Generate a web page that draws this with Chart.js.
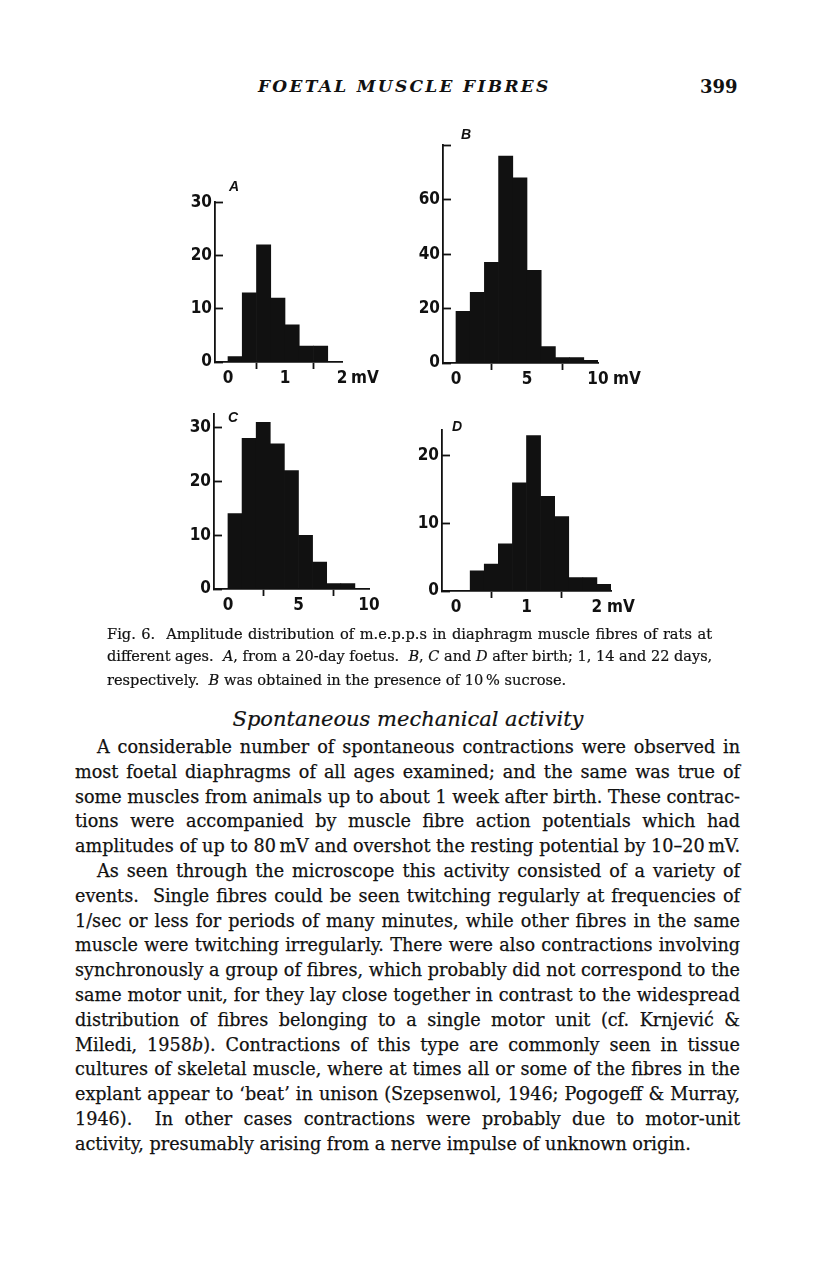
<!DOCTYPE html>
<html>
<head>
<meta charset="utf-8">
<script src="https://cdn.jsdelivr.net/npm/chart.js@4.4.0/dist/chart.umd.min.js"></script>
<style>
  body { margin: 0; background: #fff; }
  #page { position: relative; width: 816px; height: 1272px; overflow: hidden; background: #fff; color: #111; font-family: 'DejaVu Serif', serif; }
  canvas { position: absolute; }
  .t { position: absolute; white-space: nowrap; }
  .lab { position: absolute; font-family: 'Liberation Sans Narrow', 'DejaVu Sans Condensed', 'Liberation Sans', sans-serif; font-weight: bold; font-size: 17px; line-height: 1; color: #111; }
  .let { position: absolute; font-family: 'Liberation Sans', sans-serif; font-style: italic; font-weight: bold; font-size: 14px; line-height: 1; color: #111; }
  .j { white-space: nowrap; text-align: justify; text-align-last: justify; }
  .l { white-space: nowrap; text-align: left; }
  #caption { position: absolute; left: 107px; top: 622px; width: 605px; font-size: 14.6px; line-height: 23px; -webkit-text-stroke: 0.2px #111; }
  #body { position: absolute; left: 75px; top: 735px; width: 665px; font-size: 17.6px; line-height: 24.8px; -webkit-text-stroke: 0.25px #111; }
  .ind { padding-left: 22px; }
</style>
</head>
<body>
<div id="page">
  <div class="t" style="left:258px; top:76px; font-style:italic; font-weight:bold; font-size:17px; letter-spacing:2.3px;">FOETAL MUSCLE FIBRES</div>
  <div class="t" style="left:700px; top:76px; font-weight:bold; font-size:18px;">399</div>

  <canvas id="chartA" width="197" height="213" style="left:175px; top:181px;"></canvas>
  <canvas id="chartB" width="225" height="271" style="left:403px; top:124px;"></canvas>
  <canvas id="chartC" width="225" height="228" style="left:174px; top:393px;"></canvas>
  <canvas id="chartD" width="239" height="214" style="left:402px; top:409px;"></canvas>

  <div class="let" style="left:229px; top:179px;">A</div>
  <div class="let" style="left:461px; top:127px;">B</div>
  <div class="let" style="left:228px; top:410px;">C</div>
  <div class="let" style="left:452px; top:419px;">D</div>

  <div class="lab" style="left:351px; top:369px;">mV</div>
  <div class="lab" style="left:613px; top:370px;">mV</div>
  <div class="lab" style="left:607px; top:598px;">mV</div>

  <div id="caption">
    <div class="j">Fig. 6.&nbsp; Amplitude distribution of m.e.p.p.s in diaphragm muscle fibres of rats at</div>
    <div class="j">different ages.&nbsp; <i>A</i>, from a 20-day foetus.&nbsp; <i>B</i>, <i>C</i> and <i>D</i> after birth; 1, 14 and 22 days,</div>
    <div class="l">respectively.&nbsp; <i>B</i> was obtained in the presence of 10&#8201;% sucrose.</div>
  </div>

  <div class="t" style="left:0; width:816px; top:707px; text-align:center; font-style:italic; font-size:21px; -webkit-text-stroke:0.2px #111;">Spontaneous mechanical activity</div>

  <div id="body">
    <div class="j ind">A considerable number of spontaneous contractions were observed in</div>
    <div class="j">most foetal diaphragms of all ages examined; and the same was true of</div>
    <div class="j">some muscles from animals up to about 1 week after birth. These contrac-</div>
    <div class="j">tions were accompanied by muscle fibre action potentials which had</div>
    <div class="j">amplitudes of up to 80&#8201;mV and overshot the resting potential by 10&ndash;20&#8201;mV.</div>
    <div class="j ind">As seen through the microscope this activity consisted of a variety of</div>
    <div class="j">events.&nbsp; Single fibres could be seen twitching regularly at frequencies of</div>
    <div class="j">1/sec or less for periods of many minutes, while other fibres in the same</div>
    <div class="j">muscle were twitching irregularly. There were also contractions involving</div>
    <div class="j">synchronously a group of fibres, which probably did not correspond to the</div>
    <div class="j">same motor unit, for they lay close together in contrast to the widespread</div>
    <div class="j">distribution of fibres belonging to a single motor unit (cf. Krnjević &amp;</div>
    <div class="j">Miledi, 1958<i>b</i>). Contractions of this type are commonly seen in tissue</div>
    <div class="j">cultures of skeletal muscle, where at times all or some of the fibres in the</div>
    <div class="j">explant appear to &lsquo;beat&rsquo; in unison (Szepsenwol, 1946; Pogogeff &amp; Murray,</div>
    <div class="j">1946).&nbsp; In other cases contractions were probably due to motor-unit</div>
    <div class="l">activity, presumably arising from a nerve impulse of unknown origin.</div>
  </div>
</div>

<script>
// A: 20-day foetus, bins of 0.25 mV
const startsA = [0, 0.25, 0.5, 0.75, 1.0, 1.25, 1.5];
const countsA = [1, 13, 22, 12, 7, 3, 3];
const binA = 0.25;
const xTicksA = [0, 1, 2];
const yTicksA = [0, 10, 20, 30];

// B: 1 day after birth, bins of 1 mV
const startsB = [0, 1, 2, 3, 4, 5, 6, 7, 8, 9];
const countsB = [19, 26, 37, 76, 68, 34, 6, 2, 2, 1];
const binB = 1;
const xTicksB = [0, 5, 10];
const yTicksB = [0, 20, 40, 60, 80];

// C: 14 days, bins of 1 mV
const startsC = [0, 1, 2, 3, 4, 5, 6, 7, 8];
const countsC = [14, 28, 31, 27, 22, 10, 5, 1, 1];
const binC = 1;
const xTicksC = [0, 5, 10];
const yTicksC = [0, 10, 20, 30];

// D: 22 days, bins of 0.2 mV
const startsD = [0, 0.2, 0.4, 0.6, 0.8, 1.0, 1.2, 1.4, 1.6, 1.8, 2.0];
const countsD = [0, 3, 4, 7, 16, 23, 14, 11, 2, 2, 1];
const binD = 0.2;
const xTicksD = [0, 1, 2];
const yTicksD = [0, 10, 20];

const ink = '#111';
const axisFont = { family: "'Liberation Sans Narrow', 'DejaVu Sans Condensed', 'Liberation Sans', sans-serif", size: 17, weight: 'bold' };

function histogram(id, starts, bin, counts, xTicks, yTicks, range) {
  const points = starts.map((s, i) => ({ x: s + bin / 2, y: counts[i] }));
  return new Chart(document.getElementById(id), {
    type: 'bar',
    data: {
      datasets: [{
        data: points,
        backgroundColor: ink,
        borderWidth: 0,
        barPercentage: 1,
        categoryPercentage: 1
      }]
    },
    options: {
      responsive: false,
      animation: false,
      events: [],
      layout: { padding: { left: 0, right: 30, top: 12, bottom: 0 } },
      plugins: { legend: { display: false }, tooltip: { enabled: false } },
      scales: {
        x: {
          type: 'linear',
          offset: false,
          min: range.xMin,
          max: range.xMax,
          afterBuildTicks: s => { s.ticks = xTicks.map(v => ({ value: v })); },
          afterFit: s => { s.height = 32; },
          grid: { drawOnChartArea: false, drawTicks: true, tickLength: 7, tickColor: ink, tickWidth: 1.8 },
          border: { display: true, color: ink, width: 1.8 },
          ticks: { color: ink, font: axisFont, padding: -1, maxRotation: 0, autoSkip: false, callback: v => String(v) }
        },
        y: {
          type: 'linear',
          min: 0,
          max: range.yMax,
          afterBuildTicks: s => { s.ticks = yTicks.map(v => ({ value: v })); },
          afterFit: s => { s.width = 40; },
          grid: { drawOnChartArea: false, drawTicks: true, tickLength: -8, tickColor: ink, tickWidth: 1.8 },
          border: { display: true, color: ink, width: 1.8 },
          ticks: { color: ink, font: axisFont, padding: 11, callback: v => (v === range.yHide ? '' : String(v)) }
        }
      }
    }
  });
}

histogram('chartA', startsA, binA, countsA, xTicksA, yTicksA, { xMin: -0.228, xMax: 2, yMax: 30 });
histogram('chartB', startsB, binB, countsB, xTicksB, yTicksB, { xMin: -0.915, xMax: 10, yMax: 80, yHide: 80 });
histogram('chartC', startsC, binC, countsC, xTicksC, yTicksC, { xMin: -0.99, xMax: 10, yMax: 32.5 });
histogram('chartD', startsD, binD, countsD, xTicksD, yTicksD, { xMin: -0.2, xMax: 2.2, yMax: 23.8 });

// shrink any line whose natural width would overflow its column
document.querySelectorAll('.j, .l').forEach(el => {
  let size = parseFloat(getComputedStyle(el).fontSize);
  while (el.scrollWidth > el.clientWidth + 0.5 && size > 10) {
    size -= 0.1;
    el.style.fontSize = size + 'px';
  }
});
</script>
</body>
</html>
